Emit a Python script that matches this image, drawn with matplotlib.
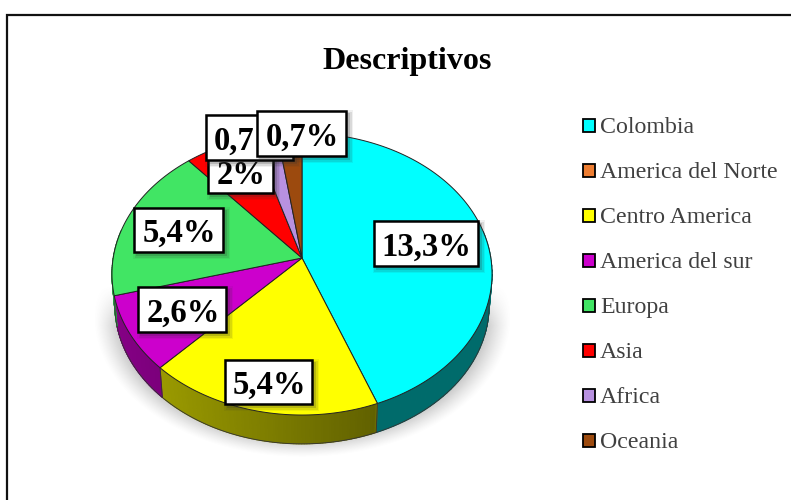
import matplotlib
matplotlib.use('Agg')
import matplotlib.pyplot as plt
from matplotlib.colors import to_rgb
from matplotlib.patches import Rectangle
import numpy as np

plt.rcParams['font.family'] = ['Liberation Serif', 'DejaVu Serif']

categories = ['Colombia', 'America del Norte', 'Centro America', 'America del sur',
              'Europa', 'Asia', 'Africa', 'Oceania']
values = [13.3, 0.0, 5.4, 2.6, 5.4, 2.0, 0.7, 0.7]
labels = ['13,3%', '', '5,4%', '2,6%', '5,4%', '2%', '0,7%', '0,7%']
colors = ['#00FFFF', '#ED7D31', '#FFFF00', '#CC00CC', '#41E564', '#FF0000', '#B891E0', '#9C4A0E']


# pie is a flat circle seen in perspective, so the apex sits above the ellipse centre
def project(theta, r=1.0, drop=0.0):
    x = r * np.sin(theta)
    y = r * np.cos(theta)
    w = 1 + 0.1135 * y
    return 302 + 188.8 * x / w, 258 - 139.2 * y / w + drop


fig = plt.figure(figsize=(7.91, 5), dpi=100)
ax = fig.add_axes([0, 0, 1, 1])

# only the top and left of the frame are in the picture
ax.plot([7, 7, 791], [500, 14.5, 14.5], color='#111111', lw=1.6, zorder=0, solid_joinstyle='miter')

# soft shadow under the pie
yy, xx = np.mgrid[285:458, 92:512]
d = np.sqrt(((xx - 302) / 209.0) ** 2 + ((yy - 316) / 141.0) ** 2)
shadow = np.zeros(xx.shape + (4,))
shadow[..., :3] = 0.35
shadow[..., 3] = np.clip((1.0 - d) / 0.2, 0, 1) ** 1.3 * 0.62 * np.clip((yy - 285) / 40.0, 0, 1)
ax.imshow(shadow, extent=(92, 512, 458, 285), zorder=1, aspect='auto', interpolation='bilinear')

ax.set_xlim(0, 791)
ax.set_ylim(500, 0)
ax.axis('off')

edges = np.cumsum([0] + values) / sum(values) * 2 * np.pi

# rim
for i in range(len(values)):
    if values[i] == 0:
        continue
    th = np.linspace(edges[i], edges[i + 1], 90)
    for a, b in zip(th[:-1], th[1:]):
        if np.cos((a + b) / 2) > 0.2:
            continue
        x0, y0 = project(a)
        x1, y1 = project(b)
        x2, y2 = project(b, r=0.985, drop=31.5)
        x3, y3 = project(a, r=0.985, drop=31.5)
        mx = (x0 + x1) / 2
        shade = 0.42 if mx > 375 else 0.38 + 0.27 * (375 - mx) / 260
        rgb = np.array(to_rgb(colors[i])) * shade
        ax.fill([x0, x1, x2, x3], [y0, y1, y2, y3], fc=rgb, ec=rgb, lw=0.8, zorder=2)
    xs, ys = project(th, r=0.985, drop=31.5)
    if np.cos(edges[i + 1]) < 0.2 or np.cos(edges[i]) < 0.2:
        keep = np.cos(th) < 0.1
        ax.plot(xs[keep], ys[keep], color='#333333', lw=0.6, zorder=2.5)
    # vertical seam between rim pieces
    if 0 < i < 4:
        xa, ya = project(edges[i])
        xb, yb = project(edges[i], r=0.985, drop=31.5)
        ax.plot([xa, xb], [ya, yb], color='#333333', lw=0.6, zorder=2.6)

# top face
for i in range(len(values)):
    if values[i] == 0:
        continue
    th = np.linspace(edges[i], edges[i + 1], 120)
    xs, ys = project(th)
    xa, ya = project(0.0, r=0.0)
    ax.fill(np.r_[xa, xs], np.r_[ya, ys], fc=colors[i], ec='#222222', lw=0.7, zorder=3)

# data labels, later ones cover earlier ones
boxes = {0: (373.5, 221, 104.5, 45), 2: (225, 360, 87, 44), 3: (138, 287, 88, 45),
         4: (134, 208, 89, 44), 5: (208, 150, 65, 43), 6: (206, 115, 87, 45), 7: (257, 111, 89, 45)}
z = 4.0
for i in [5, 6, 7, 0, 2, 3, 4]:
    x, y, w, h = boxes[i]
    for grow, alpha in [(4, 0.07), (2.5, 0.12), (1, 0.2)]:
        ax.add_patch(Rectangle((x + 3 - grow, y + 3 - grow), w + 2 * grow, h + 2 * grow, fc='#333333',
                               ec='none', alpha=alpha, zorder=z))
    ax.add_patch(Rectangle((x, y), w, h, fc='white', ec='black', lw=1.8, zorder=z + 0.01))
    ax.text(x + w / 2 + 1, y + h / 2 + 3.5, labels[i], fontsize=23.5, fontweight='bold', color='black',
            ha='center', va='center', zorder=z + 0.02)
    z += 0.1

ax.text(407, 62, 'Descriptivos', fontsize=23, fontweight='bold', ha='center', va='center', color='black')

for i, name in enumerate(categories):
    y = 125 + i * 45
    ax.add_patch(Rectangle((582.5, y - 6), 12.5, 12.5, fc=colors[i], ec='black', lw=1.3, zorder=3))
    ax.text(600, y + 2.5, name, fontsize=17.2, color='#404040', ha='left', va='center')

fig.savefig('out.png', dpi=100)
